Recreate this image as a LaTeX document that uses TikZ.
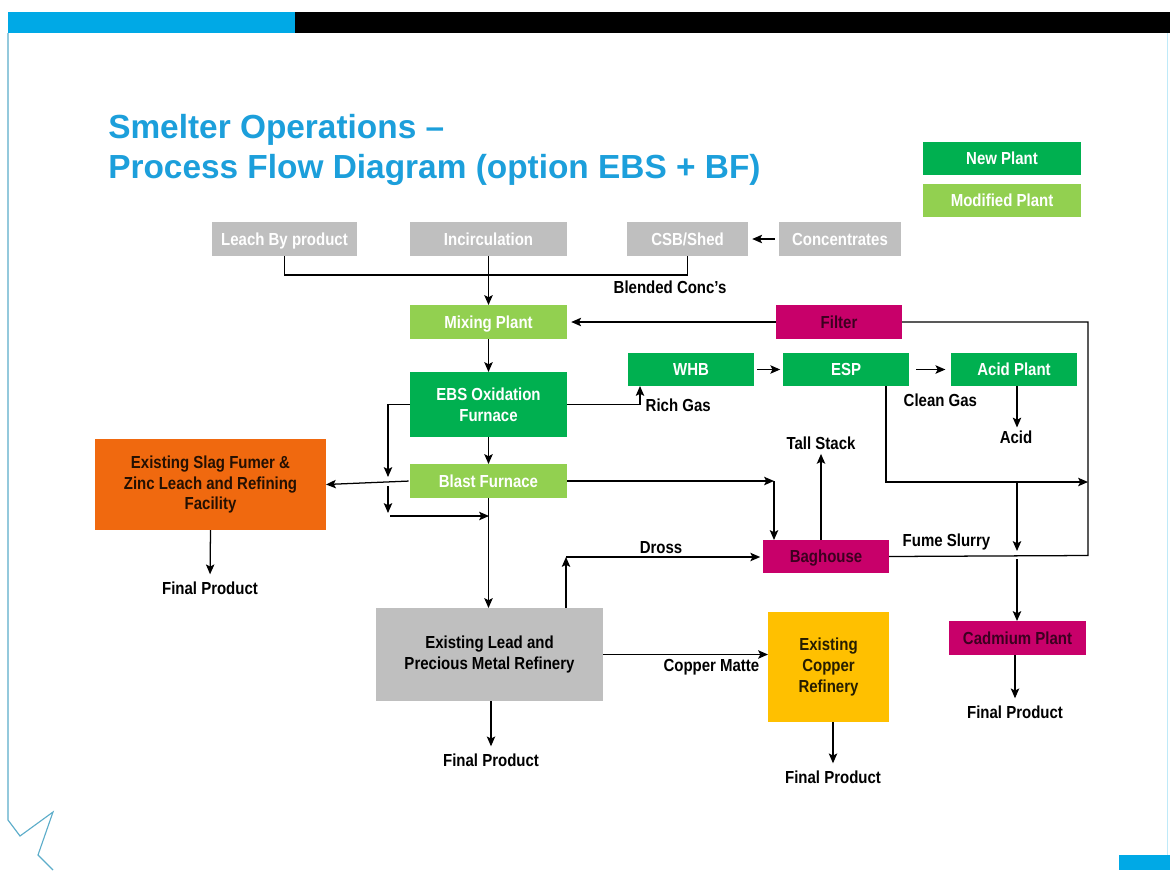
\documentclass[tikz,border=0pt]{standalone}
\usepackage{fontspec}
\setmainfont{Liberation Sans}
\newfontfamily\nf{Liberation Sans}[FakeStretch=0.86]
\usetikzlibrary{arrows.meta}
\definecolor{gbox}{HTML}{BFBFBF}
\definecolor{dkgreen}{HTML}{00B050}
\definecolor{ltgreen}{HTML}{92D050}
\definecolor{mag}{HTML}{C8006A}
\definecolor{magtext}{HTML}{3C0020}
\definecolor{orng}{HTML}{F0690F}
\definecolor{yel}{HTML}{FFC000}
\definecolor{titleblue}{HTML}{1C9FDB}
\definecolor{topcyan}{HTML}{00A9E6}
\newcommand\pbox[7]{\node[#6, minimum width={(#4-#2)*0.025cm}, minimum height={(#5-#3)*0.025cm}] (#1) at ({(#2+#4)/2},{(#3+#5)/2}) {#7};}
\begin{document}
\begin{tikzpicture}[x=0.025cm,y=-0.025cm,
  box/.style={inner sep=0pt, outer sep=0pt, align=center, font={\nf\bfseries\fontsize{12.4}{14.6}\selectfont}},
  one/.style={text height=8.9pt, text depth=0pt},
  graybox/.style={box, fill=gbox, text=white},
  dgbox/.style={box, fill=dkgreen, text=white},
  lgbox/.style={box, fill=ltgreen, text=white},
  mgbox/.style={box, fill=mag, text=magtext},
  lbl/.style={inner sep=1pt, font={\nf\bfseries\fontsize{12.4}{14.6}\selectfont}, text=black},
  ln/.style={line width=0.9pt},
  arr/.style={ln, -{Stealth[length=7pt,width=6pt,inset=1.5pt]}},
  ttl/.style={inner sep=0pt, font={\bfseries\fontsize{23.75}{28}\selectfont}, text=titleblue}]
\useasboundingbox (0,0) rectangle (1170,870);
\fill[white] (0,0) rectangle (1170,870);
% frame decoration
\fill[topcyan] (8,12) rectangle (295,33);
\fill[black] (295,12) rectangle (1170,33);
\draw[topcyan!60!gray!80, line width=0.8pt] (8,33) -- (8,820) -- (20,836) -- (53,812) -- (38,855) -- (53,870);
\draw[topcyan!25, line width=0.6pt] (1167,33) -- (1167,855);
\fill[topcyan] (1119,855) rectangle (1170,870);
% title
\node[ttl, anchor=base west] (t1) at (108,138) {Smelter Operations –};
\node[ttl, anchor=base west] (t2) at (108,178) {Process Flow Diagram (option EBS + BF)};
% legend
\pbox{newp}{923}{142}{1081}{175}{dgbox, one}{New Plant}
\pbox{modp}{923}{184}{1081}{217}{lgbox, one}{Modified Plant}
% boxes
\pbox{leach}{212}{222}{357}{256}{graybox, one}{Leach By product}
\pbox{incirc}{410}{222}{567}{256}{graybox, one}{Incirculation}
\pbox{csb}{627}{222}{748}{256}{graybox, one}{CSB/Shed}
\pbox{conc}{779}{222}{901}{256}{graybox, one}{Concentrates}
\pbox{mix}{410}{305}{567}{339}{lgbox, one}{Mixing Plant}
\pbox{filter}{776}{305}{902}{339}{mgbox, one}{Filter}
\pbox{ebs}{410}{372}{567}{437}{dgbox}{EBS Oxidation\\Furnace}
\pbox{whb}{628}{353}{754}{386}{dgbox, one}{WHB}
\pbox{esp}{783}{353}{909}{386}{dgbox, one}{ESP}
\pbox{acidp}{951}{353}{1077}{386}{dgbox, one}{Acid Plant}
\pbox{blast}{410}{464}{567}{498}{lgbox, one}{Blast Furnace}
\pbox{slag}{95}{439}{326}{530}{box, fill=orng, text=black!85!orng}{Existing Slag Fumer \&\\Zinc Leach and Refining\\Facility}
\pbox{bag}{763}{540}{889}{573}{mgbox, one}{Baghouse}
\pbox{lead}{376}{608}{603}{701}{box, fill=gbox, text=black}{Existing Lead and\\Precious Metal Refinery}
\pbox{copper}{768}{612}{889}{722}{box, fill=yel, text=black!85!yel}{Existing\\Copper\\Refinery}
\pbox{cad}{949}{621}{1086}{655}{mgbox, one}{Cadmium Plant}
% labels
\node[lbl, anchor=west] (blended) at (612,287) {Blended Conc’s};
\node[lbl, anchor=west] (richgas) at (644,405) {Rich Gas};
\node[lbl, anchor=west] (cleangas) at (902,400) {Clean Gas};
\node[lbl] (acid) at (1016,437) {Acid};
\node[lbl] (tall) at (821,443) {Tall Stack};
\node[lbl] (dross) at (661,548) {Dross};
\node[lbl, anchor=west] (fume) at (901,542) {Fume Slurry};
\node[lbl, anchor=east] (cmatte) at (761,667) {Copper Matte};
\node[lbl] (fp1) at (210,588) {Final Product};
\node[lbl] (fp2) at (491,760) {Final Product};
\node[lbl] (fp3) at (833,777) {Final Product};
\node[lbl] (fp4) at (1015,712) {Final Product};
% coordinates
\coordinate (rc) at (1088,555.5);
\coordinate (rg) at (640,404.5);
\coordinate (cg) at (886,482);
\coordinate (cgr) at (1088,482);
\coordinate (cj) at (1017,482);
\coordinate (cj2) at (1017,551);
\coordinate (cj3) at (1017,559);
\coordinate (bf) at (774,481);
\coordinate (el) at (388,404.5);
\coordinate (el2) at (388,477);
\coordinate (el3) at (388,486);
\coordinate (el4) at (388,513);
\coordinate (el5) at (390,516);
\coordinate (el6) at (489,516);
\coordinate (lt) at (566,608);
\coordinate (ltop) at (566,557);
% connectors
\draw[arr, shorten <=3pt, shorten >=3pt] (conc.west) -- (csb.east);
\draw[ln] (leach.south) -- ++(0,19) -| (csb.south);
\draw[arr] (incirc.south) -- (mix.north);
\draw[arr, shorten >=3pt] (filter.west) -- (mix.east);
\draw[ln] (filter.east) -| (rc) -- (bag.east);
\draw[arr] (mix.south) -- (ebs.north);
\draw[arr] (ebs.south) -- (blast.north);
\draw[arr, shorten <=2pt, shorten >=2pt] (whb.east) -- (esp.west);
\draw[arr, shorten <=5pt, shorten >=4pt] (esp.east) -- (acidp.west);
\draw[arr] (ebs.east) -- (rg) -- (rg |- whb.south);
\draw[arr, shorten >=1pt] (acidp.south -| cj) -- (acid.north -| cj);
\draw[arr] (cg |- esp.south) -- (cg) -- (cgr);
\draw[arr] (cj) -- (cj2);
\draw[arr] (cj3) -- (cj3 |- cad.north);
\draw[arr, shorten >=2pt] (bag.north -| tall) -- (tall.south);
\draw[arr] (blast.east) -- (bf);
\draw[arr] (bf) -- (bf |- bag.north);
\draw[arr, shorten <=1pt] (blast.west) -- (slag.east);
\draw[arr] (ebs.west) -- (el) -- (el2);
\draw[arr] (el3) -- (el4);
\draw[arr] (el5) -- (el6);
\draw[arr] (blast.south) -- (blast.south |- lead.north);
\draw[arr, shorten >=4pt] (slag.south) -- (fp1.north);
\draw[arr, shorten >=4pt] (lead.south -| fp2) -- (fp2.north);
\draw[arr] (lt) -- (ltop);
\draw[arr, shorten >=2pt] (ltop) -- (ltop -| bag.west);
\draw[arr] (lead.east) -- (lead.east -| copper.west);
\draw[arr, shorten >=4pt] (copper.south -| fp3) -- (fp3.north);
\draw[arr, shorten >=4pt] (cad.south -| fp4) -- (fp4.north);
\end{tikzpicture}
\end{document}
